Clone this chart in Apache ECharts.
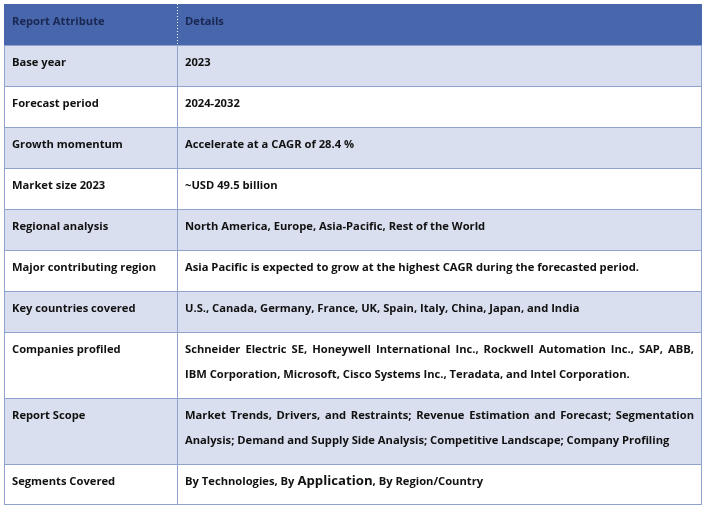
<!DOCTYPE html>
<html><head><meta charset="utf-8">
<script src="https://cdn.jsdelivr.net/npm/echarts@6/dist/echarts.min.js"></script>
<style>html,body{margin:0;padding:0;background:#fff}#c{width:706px;height:511px}</style>
</head><body><div id="c"></div>
<script>
// ---- data ----
const headers = ["Report Attribute", "Details"];
const attributes = ["Base year", "Forecast period", "Growth momentum", "Market size 2023", "Regional analysis",
  "Major contributing region", "Key countries covered", "Companies profiled", "Report Scope", "Segments Covered"];
const details = [
  ["2023"],
  ["2024-2032"],
  ["Accelerate at a CAGR of 28.4 %"],
  ["~USD 49.5 billion"],
  ["North America, Europe, Asia-Pacific, Rest of the World"],
  ["Asia Pacific is expected to grow at the highest CAGR during the forecasted period."],
  ["U.S., Canada, Germany, France, UK, Spain, Italy, China, Japan, and India"],
  ["Schneider Electric SE, Honeywell International Inc., Rockwell Automation Inc., SAP, ABB,",
   "IBM Corporation, Microsoft, Cisco Systems Inc., Teradata, and Intel Corporation."],
  ["Market Trends, Drivers, and Restraints; Revenue Estimation and Forecast; Segmentation",
   "Analysis; Demand and Supply Side Analysis; Competitive Landscape; Company Profiling"],
  ["By Technologies, By Application, By Region/Country"]
];
const emphasisWord = "Application";

// ---- layout / style ----
const TABLE_W = 698, COL_SPLIT = 173;
const ROW_H1 = 41, LINE_STEP = 25;
const FONT_FAMILY = '"Open Sans", "Liberation Sans", sans-serif';
const FONT_SIZE = 11.2;
const HEADER_BG = '#4766AC', BAND_BG = '#D9DFEF', BORDER = '#8FA3CC', HEADER_TXT = '#1A2750', TXT = '#111111';

const rows = [{ left: headers[0], right: [headers[1]] }];
attributes.forEach((a, i) => rows.push({ left: a, right: details[i] }));
let acc = 0;
const data = rows.map((r, i) => {
  const h = ROW_H1 + (r.right.length - 1) * 25;
  const item = [i, acc, h];
  acc += h;
  return item;
});
const TOTAL_H = acc;

const ctx = document.createElement('canvas').getContext('2d');
function measure(t, size) { ctx.font = 'bold ' + (size || FONT_SIZE) + 'px ' + FONT_FAMILY; return ctx.measureText(t).width; }

function txt(x, y, text, fill, size) {
  return { type: 'text', x: x, y: y, style: { text: text, fill: fill, font: 'bold ' + (size || FONT_SIZE) + 'px ' + FONT_FAMILY, textVerticalAlign: 'middle', textAlign: 'left' } };
}

function renderItem(params, api) {
  const i = api.value(0), top = api.value(1), h = api.value(2);
  const p0 = api.coord([0, top]), p1 = api.coord([TABLE_W, top + h]), pm = api.coord([COL_SPLIT, top]);
  const x0 = Math.round(p0[0]), y0 = Math.round(p0[1]), x1 = Math.round(p1[0]), y1 = Math.round(p1[1]), xm = Math.round(pm[0]);
  const header = i === 0;
  const fill = header ? HEADER_BG : (i % 2 === 1 ? BAND_BG : '#ffffff');
  const children = [{ type: 'rect', shape: { x: x0, y: y0, width: x1 - x0, height: y1 - y0 }, style: { fill: fill } }];
  const ls = { stroke: header ? HEADER_BG : BORDER, lineWidth: 1 };
  if (!header) {
    children.push({ type: 'line', shape: { x1: x0, y1: y0 + 0.5, x2: x1, y2: y0 + 0.5 }, style: ls });
    children.push({ type: 'line', shape: { x1: x0 + 0.5, y1: y0, x2: x0 + 0.5, y2: y1 }, style: ls });
    children.push({ type: 'line', shape: { x1: x1 - 0.5, y1: y0, x2: x1 - 0.5, y2: y1 }, style: ls });
    children.push({ type: 'line', shape: { x1: xm + 0.5, y1: y0, x2: xm + 0.5, y2: y1 }, style: ls });
    if (i === rows.length - 1) children.push({ type: 'line', shape: { x1: x0, y1: y1 - 0.5, x2: x1, y2: y1 - 0.5 }, style: ls });
  } else {
    children.push({ type: 'line', shape: { x1: xm + 0.5, y1: y0, x2: xm + 0.5, y2: y1 }, style: { stroke: '#ffffff', lineWidth: 1, lineDash: [1, 2] } });
  }
  const color = header ? HEADER_TXT : TXT;
  const cy = y0 + 17.5;
  children.push(txt(x0 + 8, cy, rows[i].left, color));
  const lines = rows[i].right;
  const rx = xm + 8, rw = x1 - 8 - rx;
  lines.forEach((line, k) => {
    const y = cy + k * LINE_STEP;
    const justify = k < lines.length - 1;
    if (justify) {
      const words = line.split(' ');
      const ww = words.map(w => measure(w));
      const gap = (rw - ww.reduce((a, b) => a + b, 0)) / (words.length - 1);
      let x = rx;
      words.forEach((w, j) => { children.push(txt(x, y, w, color)); x += ww[j] + gap; });
    } else if (line.indexOf(emphasisWord) >= 0 && i === rows.length - 1) {
      const parts = line.split(emphasisWord);
      let x = rx;
      children.push(txt(x, y, parts[0], color)); x += measure(parts[0]);
      children.push(txt(x, y, emphasisWord, color, FONT_SIZE + 2)); x += measure(emphasisWord, FONT_SIZE + 2);
      children.push(txt(x, y, parts[1], color));
    } else {
      children.push(txt(rx, y, line, color));
    }
  });
  return { type: 'group', children: children };
}

const chart = echarts.init(document.getElementById('c'), null, { renderer: 'canvas' });
chart.setOption({
  animation: false,
  backgroundColor: '#ffffff',
  grid: { left: 4, top: 4, width: TABLE_W, height: TOTAL_H },
  xAxis: { type: 'value', min: 0, max: TABLE_W, show: false },
  yAxis: { type: 'value', min: 0, max: TOTAL_H, inverse: true, show: false },
  series: [{ type: 'custom', renderItem: renderItem, data: data, clip: false }]
});
</script></body></html>
